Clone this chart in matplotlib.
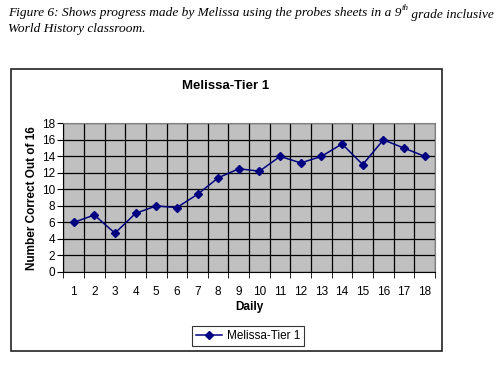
import matplotlib
matplotlib.use("Agg")
import matplotlib.pyplot as plt
from matplotlib.patches import Rectangle
import numpy as np

days = list(range(1, 19))
scores = [6, 6.9, 4.7, 7.1, 8, 7.8, 9.4, 11.4, 12.5, 12.2, 14, 13.2, 14, 15.5, 13, 16, 15, 14]
series_name = "Melissa-Tier 1"
chart_title = "Melissa-Tier 1"
y_label = "Number Correct Out of 16"
x_label = "Daily"
y_ticks = list(range(0, 19, 2))

plt.rcParams["font.family"] = ["Liberation Sans", "DejaVu Sans"]

fig = plt.figure(figsize=(5, 3.8), dpi=100)
fig.patch.set_facecolor("white")

# Outer chart box
fig.add_artist(Rectangle((11/500, 1 - 351/380), (442 - 11)/500, (351 - 69)/380,
                         transform=fig.transFigure, fill=False, edgecolor="#222222", lw=1.2))

ax = fig.add_axes([63.3/500, 1 - 272/380, (435 - 63.3)/500, (272 - 123.3)/380])
ax.set_facecolor("#C0C0C0")
ax.plot(days, scores, color="#000080", marker="D", markersize=4.3, lw=1.1, label=series_name)

ax.set_xlim(0.5, 18.5)
ax.set_ylim(0, 18)
ax.set_yticks(y_ticks)
ax.set_xticks(days)
ax.set_xticks(np.arange(0.5, 19, 1), minor=True)
ax.tick_params(axis="x", which="major", length=0, labelsize=8.5, pad=10)
ax.tick_params(axis="x", which="minor", length=4, direction="out", color="black")
ax.tick_params(axis="y", which="major", length=4, direction="out", labelsize=8.5, pad=2)
ax.grid(True, axis="y", which="major", color="black", lw=0.9)
ax.grid(True, axis="x", which="minor", color="black", lw=0.9)
ax.set_axisbelow(True)
for s in ["top", "right"]:
    ax.spines[s].set_color("#808080")
for s in ["left", "bottom"]:
    ax.spines[s].set_color("black")

ax.set_ylabel(y_label, fontsize=8.5, fontweight="bold", labelpad=3)
ax.set_xlabel(x_label, fontsize=8.5, fontweight="bold", labelpad=2)
fig.text(226/500, 1 - 86/380, chart_title, fontsize=9.5, fontweight="bold", ha="center", va="center")

leg = ax.legend(loc="center", bbox_to_anchor=(248/500, 1 - 336/380), bbox_transform=fig.transFigure,
                fontsize=8.5, frameon=True, fancybox=False, edgecolor="black",
                handlelength=2.2, borderpad=0.3, handletextpad=0.4)
leg.get_frame().set_linewidth(0.8)

# Caption (italic serif) with superscript
serif = "Liberation Serif"
t1 = fig.text(8/500, 1 - 13/380, "Figure 6: Shows progress made by Melissa using the probes sheets in a 9",
              fontsize=9.6, style="italic", family=serif, va="center", ha="left")
a2 = ax.annotate("th", xy=(1, 0.55), xycoords=t1, fontsize=6.5, style="italic", family=serif,
                 va="bottom", ha="left", annotation_clip=False)
a3 = ax.annotate(" grade inclusive", xy=(1, 0.45), xycoords=a2, fontsize=9.6, style="italic",
                 family=serif, va="top", ha="left", annotation_clip=False)
fig.text(8/500, 1 - 29/380, "World History classroom.", fontsize=9.6, style="italic",
         family=serif, va="center", ha="left")

fig.savefig("out.png", dpi=100)
